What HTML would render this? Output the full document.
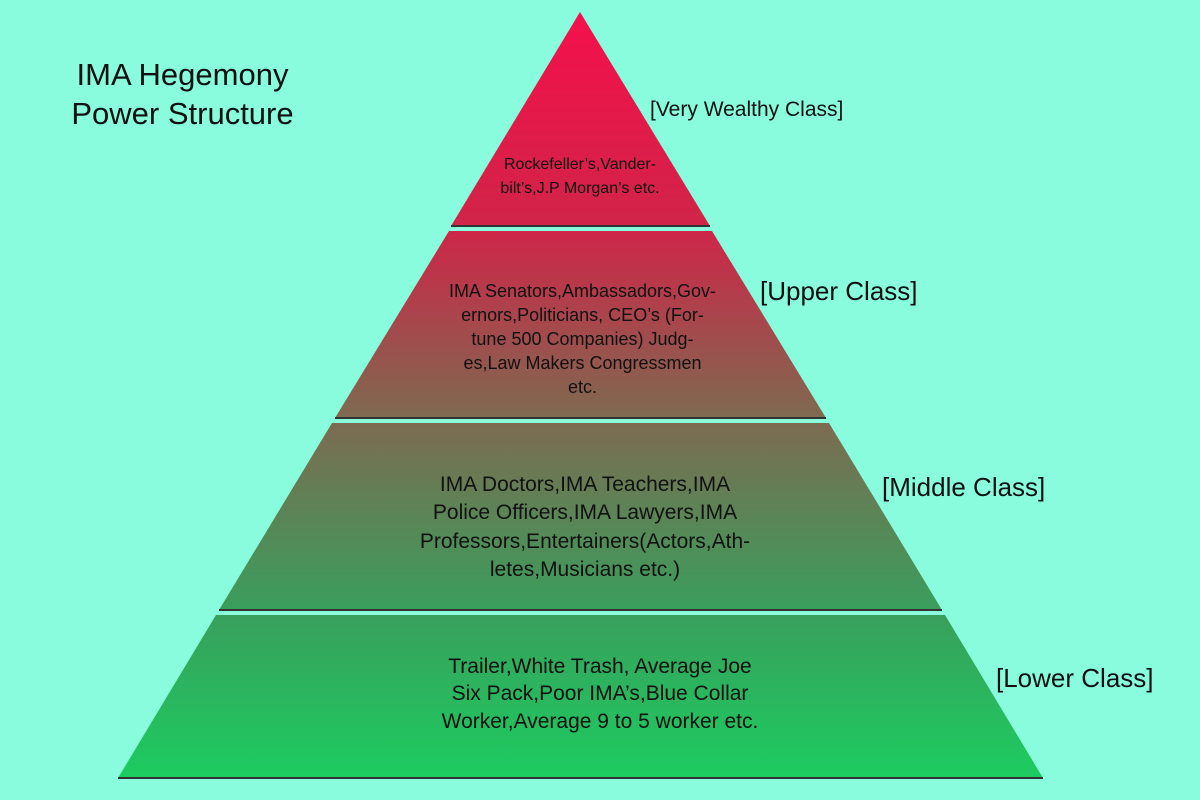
<!DOCTYPE html>
<html><head><meta charset="utf-8"><style>
body{margin:0;width:1200px;height:800px;background:#88fcdc;position:relative;overflow:hidden;font-family:"Liberation Sans",Arial,sans-serif;}
svg{position:absolute;left:0;top:0}
.t{position:absolute;text-align:center;color:#111;line-height:1.28}
.l{position:absolute;color:#111;white-space:nowrap}
</style></head><body>
<svg width="1200" height="800">
<defs>
<linearGradient id="g" x1="0" y1="12" x2="0" y2="778" gradientUnits="userSpaceOnUse">
<stop offset="0" stop-color="#f5104c"/>
<stop offset="0.28" stop-color="#d02448"/>
<stop offset="0.53" stop-color="#7e6a50"/>
<stop offset="0.78" stop-color="#3a9e5c"/>
<stop offset="1" stop-color="#1ccc60"/>
</linearGradient>
</defs>
<polygon points="580,12 710,226 451,226" fill="url(#g)"/>
<line x1="451" y1="226" x2="710" y2="226" stroke="#333" stroke-width="2"/>
<polygon points="449,231 712,231 826,418 335,418" fill="url(#g)"/>
<line x1="335" y1="418" x2="826" y2="418" stroke="#333" stroke-width="2"/>
<polygon points="332,423 829,423 942,610 219,610" fill="url(#g)"/>
<line x1="219" y1="610" x2="942" y2="610" stroke="#333" stroke-width="2"/>
<polygon points="216,615 945,615 1043,778 118,778" fill="url(#g)"/>
<line x1="118" y1="778" x2="1043" y2="778" stroke="#333" stroke-width="2"/>
</svg>
<div class="t" style="left:40px;top:56px;width:285px;font-size:31px;line-height:1.25">IMA Hegemony<br>Power Structure</div>
<div class="l" style="left:650px;top:98px;font-size:21px">[Very Wealthy Class]</div>
<div class="l" style="left:760px;top:276px;font-size:26px">[Upper Class]</div>
<div class="l" style="left:882px;top:472px;font-size:26px">[Middle Class]</div>
<div class="l" style="left:996px;top:663px;font-size:26px">[Lower Class]</div>
<div class="t" style="left:480px;top:153px;width:200px;font-size:16px;line-height:1.5">Rockefeller’s,Vander-<br>bilt’s,J.P Morgan’s etc.</div>
<div class="t" style="left:400px;top:280px;width:365px;font-size:18px;line-height:1.33">IMA Senators,Ambassadors,Gov-<br>ernors,Politicians, CEO’s (For-<br>tune 500 Companies) Judg-<br>es,Law Makers Congressmen<br>etc.</div>
<div class="t" style="left:370px;top:471px;width:430px;font-size:21px;line-height:1.35">IMA Doctors,IMA Teachers,IMA<br>Police Officers,IMA Lawyers,IMA<br>Professors,Entertainers(Actors,Ath-<br>letes,Musicians etc.)</div>
<div class="t" style="left:390px;top:653px;width:420px;font-size:21px;line-height:1.3">Trailer,White Trash, Average Joe<br>Six Pack,Poor IMA’s,Blue Collar<br>Worker,Average 9 to 5 worker etc.</div>
</body></html>
